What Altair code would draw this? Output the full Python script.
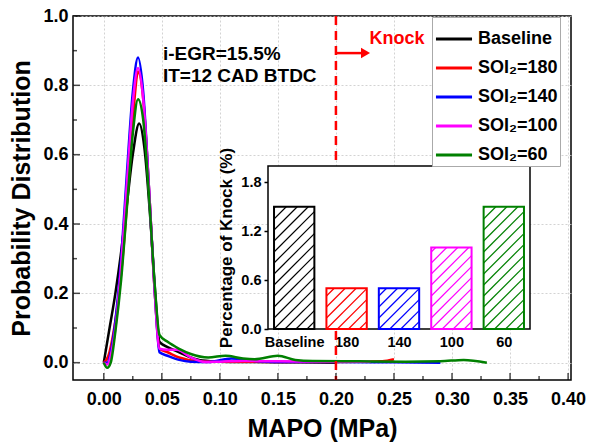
import altair as alt
import pandas as pd

FONT = "Liberation Sans"

# ---------------- data ----------------
series_names = ["Baseline", "SOI₂=180", "SOI₂=140", "SOI₂=100", "SOI₂=60"]
series_colors = ["#000000", "#ff0000", "#0000ff", "#ff00ff", "#008000"]

base_x = [0.000, 0.005, 0.010, 0.015, 0.020, 0.025, 0.0305, 0.035, 0.040, 0.045, 0.048,
          0.055, 0.065, 0.075, 0.085, 0.100, 0.130, 0.170, 0.200]
base_y = [0.000, 0.100, 0.200, 0.320, 0.460, 0.600, 0.690, 0.620, 0.420, 0.170, 0.060,
          0.045, 0.030, 0.015, 0.006, 0.003, 0.002, 0.001, 0.000]

s180_x = [0.000, 0.004, 0.008, 0.012, 0.017, 0.022, 0.026, 0.0295, 0.034, 0.039, 0.044, 0.048,
          0.055, 0.065, 0.080, 0.100, 0.150, 0.200, 0.240, 0.250]
s180_y = [0.000, 0.020, 0.080, 0.170, 0.330, 0.550, 0.740, 0.840, 0.760, 0.500, 0.200, 0.040,
          0.030, 0.015, 0.005, 0.003, 0.002, 0.002, 0.004, 0.010]

s140_x = [0.000, 0.003, 0.006, 0.010, 0.015, 0.020, 0.025, 0.0295, 0.034, 0.039, 0.044, 0.048,
          0.055, 0.065, 0.075, 0.090, 0.110, 0.130, 0.150, 0.200, 0.250, 0.290]
s140_y = [0.000, 0.000, 0.030, 0.120, 0.300, 0.550, 0.780, 0.880, 0.780, 0.500, 0.200, 0.030,
          0.020, 0.008, 0.003, 0.002, 0.012, 0.005, 0.002, 0.002, 0.001, 0.000]

s100_x = [0.000, 0.003, 0.006, 0.010, 0.015, 0.020, 0.025, 0.0295, 0.034, 0.039, 0.044, 0.048,
          0.055, 0.063, 0.075, 0.087, 0.100, 0.120, 0.150, 0.200, 0.230]
s100_y = [0.000, -0.005, 0.020, 0.100, 0.280, 0.520, 0.750, 0.850, 0.760, 0.500, 0.200, 0.040,
          0.037, 0.037, 0.015, 0.002, 0.003, 0.005, 0.004, 0.003, 0.003]

s60_x = [0.000, 0.003, 0.006, 0.010, 0.015, 0.020, 0.025, 0.0295, 0.034, 0.039, 0.044, 0.048,
         0.055, 0.065, 0.075, 0.090, 0.105, 0.120, 0.130, 0.150, 0.165, 0.180, 0.220, 0.260,
         0.290, 0.310, 0.330]
s60_y = [0.000, -0.015, 0.000, 0.090, 0.240, 0.450, 0.660, 0.760, 0.700, 0.480, 0.220, 0.080,
         0.060, 0.040, 0.025, 0.015, 0.020, 0.012, 0.010, 0.020, 0.008, 0.005, 0.004, 0.003,
         0.004, 0.008, 0.000]

series_x = [base_x, s180_x, s140_x, s100_x, s60_x]
series_y = [base_y, s180_y, s140_y, s100_y, s60_y]

x_major = [0.00, 0.05, 0.10, 0.15, 0.20, 0.25, 0.30, 0.35, 0.40]
x_minor = [0.025, 0.075, 0.125, 0.175, 0.225, 0.275, 0.325, 0.375]
y_major = [0.0, 0.2, 0.4, 0.6, 0.8, 1.0]
y_minor = [0.1, 0.3, 0.5, 0.7, 0.9]
y_grid = [0.0, 0.1, 0.2, 0.3, 0.4, 0.5, 0.6, 0.7, 0.8, 0.9, 1.0]

knock_limit = 0.20

knock_cats = ["Baseline", "180", "140", "100", "60"]
knock_vals = [1.5, 0.5, 0.5, 1.0, 1.5]
inset_y_ticks = [0.0, 0.6, 1.2, 1.8]

# ---------------- layout ----------------
W, H = 498, 364
X_DOM = [-0.0265, 0.4025]
Y_DOM = [-0.05, 1.0]
IN_X = [195, 457]      # inset pixel range inside the plot area
IN_Y = [313, 150]
IN_XDOM = [0, 5]
IN_YDOM = [0, 2.0]

rows = []
for name, xs, ys in zip(series_names, series_x, series_y):
    for a, b in zip(xs, ys):
        rows.append({"series": name, "mapo": a, "prob": b})
curves = pd.DataFrame(rows)

xs = alt.Scale(domain=X_DOM, nice=False, zero=False)
ys = alt.Scale(domain=Y_DOM, nice=False, zero=False)

lines = alt.Chart(curves).mark_line(strokeWidth=2.5, interpolate="monotone").encode(
    x=alt.X("mapo:Q", scale=xs,
            axis=alt.Axis(title="MAPO (MPa)", values=x_major, format=".2f", ticks=False,
                          domain=False, labelPadding=10, labelFontSize=18, titleFontSize=25,
                          titlePadding=8, grid=True, gridDash=[2, 2], gridColor="#c8c8c8",
                          gridWidth=0.8, labelFlush=False)),
    y=alt.Y("prob:Q", scale=ys,
            axis=alt.Axis(title="Probability Distribution", values=y_grid, ticks=False,
                          domain=False, labelPadding=5, labelFontSize=18, titleFontSize=25,
                          titlePadding=8, grid=True, gridDash=[2, 2], gridColor="#c8c8c8",
                          gridWidth=0.8, labelFlush=False,
                          labelExpr="round(datum.value*10) % 2 == 0 ? format(datum.value, '.1f') : ''")),
    color=alt.Color("series:N", sort=series_names,
                    scale=alt.Scale(domain=series_names, range=series_colors),
                    legend=alt.Legend(title=None, orient="none", legendX=359, legendY=1,
                                      symbolType="stroke", symbolSize=1300, symbolStrokeWidth=3,
                                      labelFontSize=18, labelFont=FONT, labelFontWeight="bold",
                                      labelOffset=4, padding=2, rowPadding=-1,
                                      strokeColor="#aaaaaa", fillColor="white",
                                      labelColor="black")),
)

knock_df = pd.DataFrame({"mapo": [knock_limit]})
knock_rule = alt.Chart(knock_df).mark_rule(color="#ff0000", strokeWidth=2.5,
                                           strokeDash=[9, 6]).encode(x="mapo:Q")

arrow_df = pd.DataFrame({"mapo": [knock_limit], "mapo2": [0.222], "prob": [0.893]})
arrow_line = alt.Chart(arrow_df).mark_rule(color="#ff0000", strokeWidth=2.5).encode(
    x="mapo:Q", x2="mapo2:Q", y="prob:Q")
head_df = pd.DataFrame({"mapo": [0.2255], "prob": [0.893]})
arrow_head = alt.Chart(head_df).mark_point(shape="triangle-right", filled=True, size=110,
                                           color="#ff0000", opacity=1).encode(
    x="mapo:Q", y="prob:Q")

ann_df = pd.DataFrame({"mapo": [0.051, 0.051, 0.229],
                       "prob": [0.889, 0.826, 0.934],
                       "txt": ["i-EGR=15.5%", "IT=12 CAD BTDC", "Knock"],
                       "col": ["black", "black", "#ff0000"],
                       "fs": [19, 19, 18]})
ann = alt.Chart(ann_df).mark_text(align="left", baseline="middle", font=FONT,
                                  fontWeight="bold").encode(
    x="mapo:Q", y="prob:Q", text="txt:N", color=alt.Color("col:N", scale=None),
    size=alt.Size("fs:Q", scale=None))

xt_major = alt.Chart(pd.DataFrame({"mapo": x_major})).mark_tick(
    orient="vertical", size=7, thickness=1.5, color="black").encode(
    x="mapo:Q", y=alt.value(H - 3.5))
xt_minor = alt.Chart(pd.DataFrame({"mapo": x_minor})).mark_tick(
    orient="vertical", size=4, thickness=1.5, color="black").encode(
    x="mapo:Q", y=alt.value(H - 2))
yt_major = alt.Chart(pd.DataFrame({"prob": y_major})).mark_tick(
    orient="horizontal", size=7, thickness=1.5, color="black").encode(
    y="prob:Q", x=alt.value(3.5))
yt_minor = alt.Chart(pd.DataFrame({"prob": y_minor})).mark_tick(
    orient="horizontal", size=4, thickness=1.5, color="black").encode(
    y="prob:Q", x=alt.value(2))

inset_bg = alt.Chart(alt.Data(values=[{"a": 1}])).mark_rect(
    fill="white", stroke="black", strokeWidth=1.5).encode(
    x=alt.value(IN_X[0]), x2=alt.value(IN_X[1]), y=alt.value(IN_Y[1]), y2=alt.value(IN_Y[0]))

main = alt.layer(lines, knock_rule, arrow_line, arrow_head, ann,
                 xt_major, xt_minor, yt_major, yt_minor, inset_bg)

# ---------------- inset ----------------
pxx = (IN_X[1] - IN_X[0]) / (IN_XDOM[1] - IN_XDOM[0])
pxy = (IN_Y[0] - IN_Y[1]) / (IN_YDOM[1] - IN_YDOM[0])
bar_rows, hatch_rows = [], []
spacing = 11.0
for i, (cat, v, col) in enumerate(zip(knock_cats, knock_vals, series_colors)):
    x0, x1 = i + 0.115, i + 0.885
    bar_rows.append({"ix": x0, "ix2": x1, "iy": v, "iy2": 0.0, "col": col})
    w = (x1 - x0) * pxx
    hh = v * pxy
    k = int(-hh // spacing)
    while k * spacing < w:
        c = k * spacing
        a = max(0.0, c)
        b = min(w, hh + c)
        if b > a:
            hatch_rows.append({"ix": x0 + a / pxx, "iy": (a - c) / pxy,
                               "ix2": x0 + b / pxx, "iy2": (b - c) / pxy, "col": col})
        k += 1
bars_df = pd.DataFrame(bar_rows)
hatch_df = pd.DataFrame(hatch_rows)

ixs = alt.Scale(domain=IN_XDOM, range=IN_X, nice=False, zero=False)
iys = alt.Scale(domain=IN_YDOM, range=IN_Y, nice=False, zero=False)

cat_expr = "[" + ",".join("'%s'" % c for c in knock_cats) + "][floor(datum.value)]"

hatch = alt.Chart(hatch_df).mark_rule(strokeWidth=1.2).encode(
    x=alt.X("ix:Q", scale=ixs,
            axis=alt.Axis(orient="bottom", offset=-(H - IN_Y[0]), values=[0.5, 1.5, 2.5, 3.5, 4.5],
                          labelExpr=cat_expr, ticks=False, domain=False, grid=False, title=None,
                          labelFontSize=14.5, labelPadding=6, labelFlush=False)),
    x2="ix2:Q",
    y=alt.Y("iy:Q", scale=iys,
            axis=alt.Axis(orient="left", offset=-IN_X[0], values=inset_y_ticks, format=".1f",
                          ticks=True, tickSize=4, tickWidth=1.5, tickColor="black",
                          domain=False, grid=False, title="Percentage of Knock (%)",
                          titleFontSize=17, titlePadding=5, labelFontSize=14.5,
                          labelPadding=3, labelFlush=False)),
    y2="iy2:Q",
    color=alt.Color("col:N", scale=None),
)
bars = alt.Chart(bars_df).mark_bar(fillOpacity=0, strokeWidth=2).encode(
    x="ix:Q", x2="ix2:Q", y="iy:Q", y2="iy2:Q",
    stroke=alt.Stroke("col:N", scale=None),
)
inset = alt.layer(hatch, bars)

chart = alt.layer(main, inset).resolve_scale(
    x="independent", y="independent", color="independent", stroke="independent"
).properties(
    width=W, height=H, autosize=alt.AutoSizeParams(type="none"),
    padding={"left": 73, "top": 16, "right": 19, "bottom": 63},
    background="white",
).configure_view(stroke="black", strokeWidth=1.5).configure_axis(
    labelFont=FONT, titleFont=FONT, labelFontWeight="bold", titleFontWeight="bold",
    labelColor="black", titleColor="black",
)

chart.save("out.html", embed_options={"renderer": "svg", "actions": False})
